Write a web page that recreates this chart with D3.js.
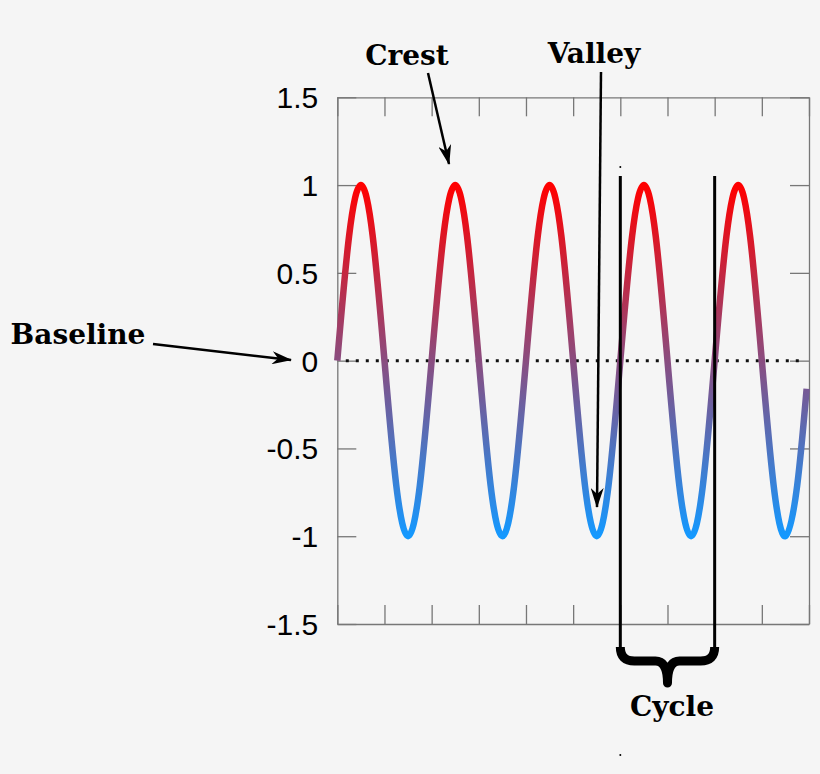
<!DOCTYPE html>
<html>
<head>
<meta charset="utf-8">
<script src="https://d3js.org/d3.v7.min.js"></script>
<style>
body { margin: 0; background: #f5f5f5; }
</style>
</head>
<body>
<div id="chart-area"></div>
<script>
// wave values, one every quarter unit
var waveX = [0, 0.25, 0.5, 0.75, 1, 1.25, 1.5, 1.75, 2, 2.25, 2.5, 2.75, 3, 3.25, 3.5, 3.75,
    4, 4.25, 4.5, 4.75, 5, 5.25, 5.5, 5.75, 6, 6.25, 6.5, 6.75, 7, 7.25, 7.5, 7.75,
    8, 8.25, 8.5, 8.75, 9, 9.25, 9.5, 9.75, 9.95];
var waveY = [0, 0.71, 1, 0.71, 0, -0.71, -1, -0.71, 0, 0.71, 1, 0.71, 0, -0.71, -1, -0.71,
    0, 0.71, 1, 0.71, 0, -0.71, -1, -0.71, 0, 0.71, 1, 0.71, 0, -0.71, -1, -0.71,
    0, 0.71, 1, 0.71, 0, -0.71, -1, -0.71, -0.16];
var xTicks = [0, 1, 2, 3, 4, 5, 6, 7, 8, 9, 10];
var yTicks = [-1.5, -1, -0.5, 0, 0.5, 1, 1.5];
var cycleStart = 6, cycleEnd = 8;

var width = 820, height = 774;
var plotL = 337.3, plotR = 809, plotT = 97.3, plotB = 624;

var svg = d3.select("#chart-area").append("svg")
    .attr("width", width)
    .attr("height", height);

svg.append("rect")
    .attr("width", width)
    .attr("height", height)
    .attr("fill", "#f5f5f5");

var x = d3.scaleLinear().domain([0, 10]).range([plotL, plotR]);
var y = d3.scaleLinear().domain([-1.5, 1.5]).range([plotB, plotT]);

var defs = svg.append("defs");

var grad = defs.append("linearGradient")
    .attr("id", "wave-grad")
    .attr("gradientUnits", "userSpaceOnUse")
    .attr("x1", 0).attr("x2", 0)
    .attr("y1", y(1)).attr("y2", y(-1));
grad.append("stop").attr("offset", "0%").attr("stop-color", "#ff0000");
grad.append("stop").attr("offset", "100%").attr("stop-color", "#1499ff");

defs.append("marker")
    .attr("id", "arrow")
    .attr("viewBox", "0 0 20 13")
    .attr("refX", 19)
    .attr("refY", 6.5)
    .attr("markerUnits", "userSpaceOnUse")
    .attr("markerWidth", 20)
    .attr("markerHeight", 13)
    .attr("orient", "auto")
  .append("path")
    .attr("d", "M0,0 L20,6.5 L0,13 L6,6.5 Z")
    .attr("fill", "black");

// axes, ticks pointing inward
var axisColor = "#777";
function styleAxis(g) {
    g.selectAll("path").attr("stroke", axisColor).attr("stroke-width", 1.3);
    g.selectAll("line").attr("stroke", axisColor).attr("stroke-width", 1.3);
}

svg.append("g")
    .attr("transform", "translate(0," + plotT + ")")
    .call(d3.axisTop(x).tickValues(xTicks).tickSize(-19).tickSizeOuter(0).tickFormat(""))
    .call(styleAxis);

svg.append("g")
    .attr("transform", "translate(0," + plotB + ")")
    .call(d3.axisBottom(x).tickValues(xTicks).tickSize(-19).tickSizeOuter(0).tickFormat(""))
    .call(styleAxis);

svg.append("g")
    .attr("transform", "translate(" + plotR + ",0)")
    .call(d3.axisRight(y).tickValues(yTicks).tickSize(-19).tickSizeOuter(0).tickFormat(""))
    .call(styleAxis);

var yAxis = svg.append("g")
    .attr("transform", "translate(" + plotL + ",0)")
    .call(d3.axisLeft(y).tickValues(yTicks).tickSize(-19).tickSizeOuter(0).tickPadding(19)
        .tickFormat((d) => String(d)))
    .call(styleAxis);

yAxis.selectAll("text")
    .attr("font-family", "'Liberation Sans', Arial, sans-serif")
    .attr("font-size", 30)
    .attr("fill", "#000")
    .attr("dy", "0.35em");

// baseline
svg.append("line")
    .attr("x1", x(0.18)).attr("x2", plotR - 6)
    .attr("y1", y(0)).attr("y2", y(0))
    .attr("stroke", "#111")
    .attr("stroke-width", 3)
    .attr("stroke-dasharray", "3,7");

var wave = waveX.map((d, i) => ({ x: d, y: waveY[i] }));

var line = d3.line()
    .x((d) => x(d.x))
    .y((d) => y(d.y))
    .curve(d3.curveNatural);

svg.append("path")
    .datum(wave)
    .attr("d", line)
    .attr("fill", "none")
    .attr("stroke", "url(#wave-grad)")
    .attr("stroke-width", 6.5)
    .attr("stroke-linejoin", "miter");

// cycle markers and brace
[cycleStart, cycleEnd].forEach((c) => {
    svg.append("line")
        .attr("x1", x(c)).attr("x2", x(c))
        .attr("y1", 176).attr("y2", 650)
        .attr("stroke", "black")
        .attr("stroke-width", 3);
});

var bx0 = x(cycleStart), bx1 = x(cycleEnd), bm = (bx0 + bx1) / 2;
svg.append("path")
    .attr("d", "M" + bx0 + ",647 Q" + bx0 + ",661 " + (bx0 + 14) + ",661 L" + (bm - 12) + ",661 Q" + bm + ",661 " + bm + ",683"
        + " Q" + bm + ",661 " + (bm + 12) + ",661 L" + (bx1 - 14) + ",661 Q" + bx1 + ",661 " + bx1 + ",647")
    .attr("fill", "none")
    .attr("stroke", "black")
    .attr("stroke-width", 9)
    .attr("stroke-linejoin", "round");

svg.append("circle").attr("cx", x(cycleStart)).attr("cy", 167).attr("r", 1).attr("fill", "black");
svg.append("circle").attr("cx", x(cycleStart)).attr("cy", 755).attr("r", 1).attr("fill", "black");

// labels and arrows
var notes = [
    { text: "Crest", tx: 407, ty: 65, x1: 428, y1: 73, x2: 449, y2: 164 },
    { text: "Valley", tx: 594, ty: 63, x1: 601, y1: 72, x2: 597, y2: 507 },
    { text: "Baseline", tx: 78, ty: 344, x1: 153, y1: 344, x2: 291, y2: 360 },
    { text: "Cycle", tx: 672, ty: 716 }
];

notes.forEach((n) => {
    svg.append("text")
        .attr("x", n.tx)
        .attr("y", n.ty)
        .attr("text-anchor", "middle")
        .attr("font-family", "'DejaVu Serif', serif")
        .attr("font-weight", "bold")
        .attr("font-size", 28)
        .attr("fill", "#000")
        .text(n.text);
    if (n.x1 !== undefined) {
        svg.append("line")
            .attr("x1", n.x1).attr("y1", n.y1)
            .attr("x2", n.x2).attr("y2", n.y2)
            .attr("stroke", "black")
            .attr("stroke-width", 2.5)
            .attr("marker-end", "url(#arrow)");
    }
});
</script>
</body>
</html>
